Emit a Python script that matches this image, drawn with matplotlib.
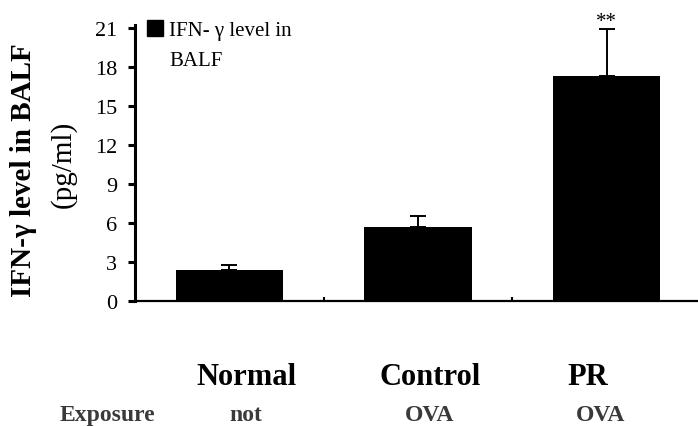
import matplotlib.pyplot as plt
from matplotlib.patches import Patch
import numpy as np

plt.rcParams['font.family'] = ['Liberation Serif', 'DejaVu Serif']

groups = ['Normal', 'Control', 'PR']
exposure = ['not', 'OVA', 'OVA']
ifn_mean = [2.4, 5.7, 17.3]
ifn_sd = [0.4, 0.8, 3.6]
yticks = [0, 3, 6, 9, 12, 15, 18, 21]

x = np.arange(len(groups))

fig = plt.figure(figsize=(6.98, 4.27), dpi=100)
ax = fig.add_axes([0.1934, 0.2927, 0.8066, 0.6456])

ax.bar(x, ifn_mean, width=0.57, color='black', edgecolor='black', linewidth=0,
       yerr=[np.zeros(len(x)), ifn_sd], capsize=6,
       error_kw=dict(elinewidth=1.4, capthick=1.4, ecolor='black'))

ax.text(x[2], ifn_mean[2] + ifn_sd[2] - 0.15, '**', ha='center', va='bottom', fontsize=15)

ax.set_xlim(-0.5, 2.485)
ax.set_ylim(0, 21.2)
ax.set_yticks(yticks)
ax.set_yticklabels([str(t) for t in yticks], fontsize=16)
ax.tick_params(axis='y', direction='out', length=5, width=2.2, pad=8)
ax.set_xticks([0.5, 1.5])
ax.set_xticklabels([])
ax.tick_params(axis='x', direction='in', length=3, width=1.5)

for s in ['top', 'right']:
    ax.spines[s].set_visible(False)
ax.spines['left'].set_linewidth(2.2)
ax.spines['bottom'].set_linewidth(1.6)

# group names and exposure row under the axis
trans = ax.get_xaxis_transform()
name_x = [0.093, 1.064, 1.902]
expo_x = [0.088, 1.064, 1.971]
for gx, g in zip(name_x, groups):
    ax.text(gx, -0.301, g, transform=trans, ha='center', va='baseline',
            fontsize=22, fontweight='bold', clip_on=False)
ax.text(-0.645, -0.432, 'Exposure', transform=trans, ha='center', va='baseline',
        fontsize=17, fontweight='bold', color='#3a3a3a', clip_on=False)
for ex, e in zip(expo_x, exposure):
    ax.text(ex, -0.432, e, transform=trans, ha='center', va='baseline',
            fontsize=17, fontweight='bold', color='#3a3a3a', clip_on=False)

fig.text(0.034, 0.602, 'IFN-γ level in BALF', rotation=90, ha='center', va='center',
         fontsize=21, fontweight='bold')
fig.text(0.090, 0.614, '(pg/ml)', rotation=90, ha='center', va='center', fontsize=21)

leg = ax.legend(handles=[Patch(facecolor='black', edgecolor='black')],
                labels=['IFN- γ level in\nBALF'], loc='upper left',
                bbox_to_anchor=(0.0, 1.06), frameon=False, fontsize=15,
                handlelength=0.75, handleheight=0.75, handletextpad=0.3,
                borderaxespad=0.2, labelspacing=0.2)
leg.get_texts()[0].set_linespacing(1.75)
# lift the swatch up to the first line of the label
sw = leg.legend_handles[0]
sw.set_y(sw.get_y() + 12.5)

fig.savefig('out.png', dpi=100)
